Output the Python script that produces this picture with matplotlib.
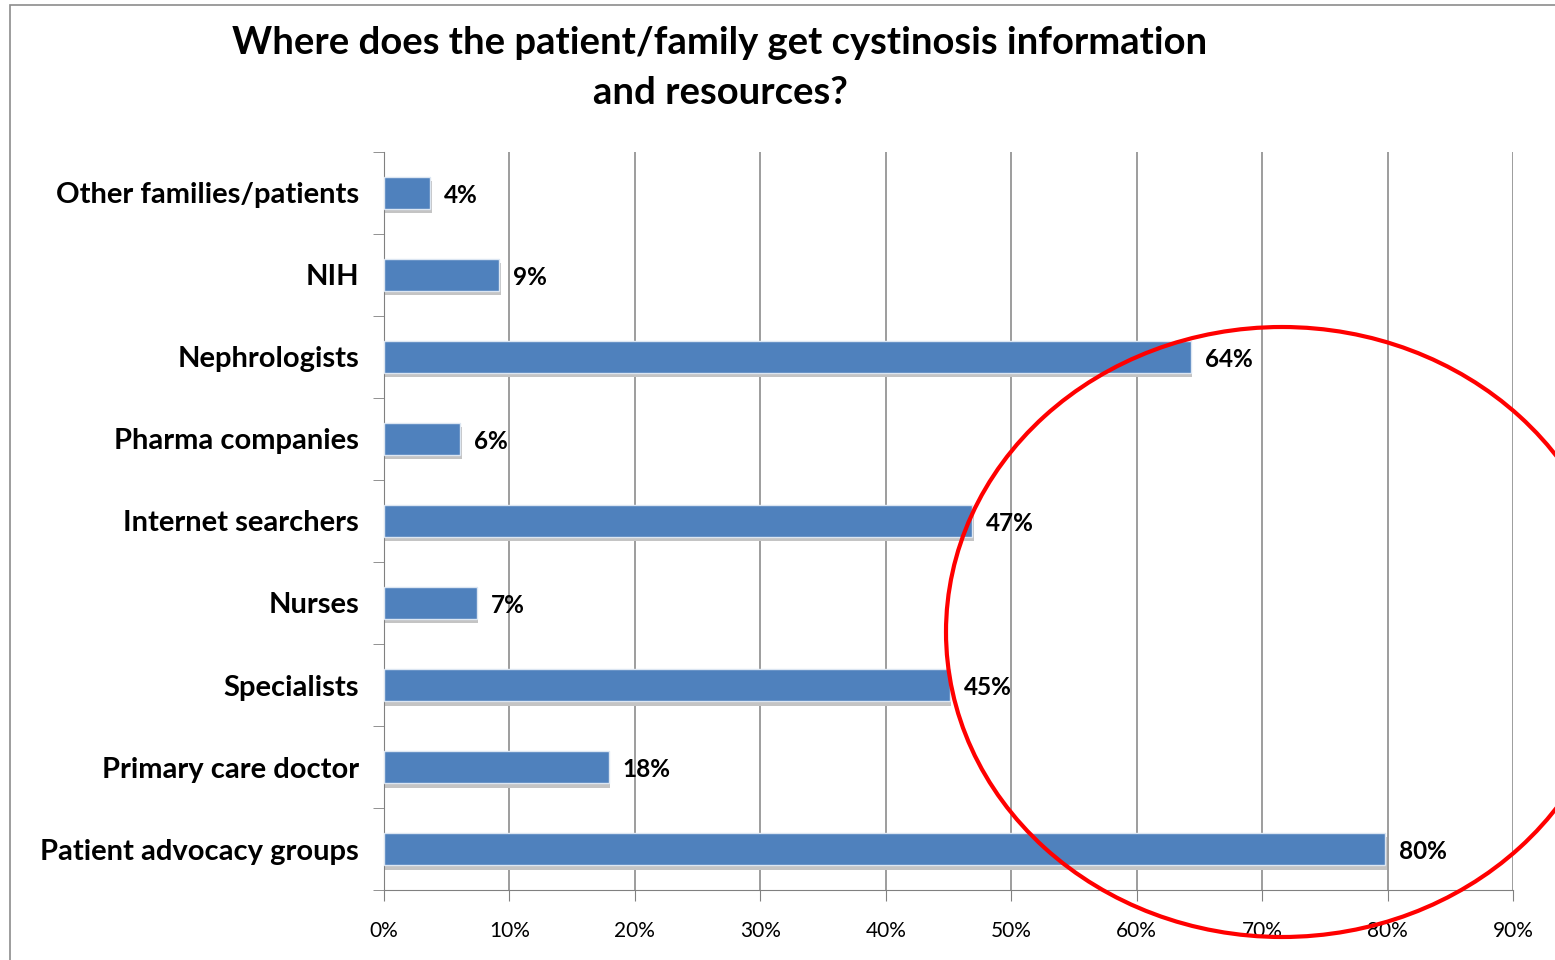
import numpy as np
import matplotlib
matplotlib.use('Agg')
import matplotlib.pyplot as plt
from matplotlib.patches import Ellipse, Rectangle
from matplotlib.ticker import FixedLocator

plt.rcParams['font.family'] = ['Lato', 'DejaVu Sans']

# data (bottom to top)
categories = ['Patient advocacy groups', 'Primary care doctor', 'Specialists', 'Nurses',
              'Internet searchers', 'Pharma companies', 'Nephrologists', 'NIH',
              'Other families/patients']
values = [79.8, 17.9, 45.1, 7.4, 46.9, 6.1, 64.3, 9.2, 3.7]
xticks = [0, 10, 20, 30, 40, 50, 60, 70, 80, 90]

fig = plt.figure(figsize=(15.55, 9.6), dpi=100)
ax = fig.add_axes([0.2469, 0.0729, 0.7262, 0.7688])

y = np.arange(len(categories))
# soft shadow under bars
ax.barh(y - 0.05, values, height=0.4, left=0.12, color='#c4c4c4', zorder=2)
ax.barh(y, values, height=0.4, color='#4f81bd', edgecolor='#dce6f2', linewidth=1, zorder=3)

for yi, v in zip(y, values):
    ax.text(v + 1.1, yi - 0.03, f'{v:.0f}%', va='center', ha='left', fontsize=17.5,
            fontweight='bold', color='black', zorder=4)

ax.set_xlim(0, 90)
ax.set_ylim(-0.5, len(categories) - 0.5)
ax.set_xticks(xticks)
ax.set_xticklabels([f'{t}%' for t in xticks], fontsize=15)
ax.set_yticks(y)
ax.set_yticklabels(categories, fontsize=21, fontweight='bold')
ax.yaxis.set_minor_locator(FixedLocator(np.arange(-0.5, len(categories), 1)))
ax.tick_params(axis='y', which='major', length=0, pad=18)
ax.tick_params(axis='y', which='minor', length=8, color='#808080')
ax.tick_params(axis='x', length=8, color='#808080', pad=14)

ax.grid(axis='x', color='#8c8c8c', linewidth=1.2, zorder=0)
ax.set_axisbelow(True)
for s in ['top', 'right']:
    ax.spines[s].set_visible(False)
ax.spines['left'].set_color('#808080')
ax.spines['bottom'].set_color('#808080')

fig.text(0.463, 0.955, 'Where does the patient/family get cystinosis information',
         ha='center', va='center', fontsize=27.5, fontweight='bold')
fig.text(0.463, 0.903, 'and resources?', ha='center', va='center', fontsize=27.5,
         fontweight='bold')

# outer frame
fig.add_artist(Rectangle((10 / 1555, -0.1), 1.2, 1.1 - 5 / 960, fill=False,
                         edgecolor='#8c8c8c', linewidth=1.2, transform=fig.transFigure))

# red ellipse annotation
fig.add_artist(Ellipse((1282 / 1555, 1 - 632 / 960), 672 / 1555, 610 / 960,
                       fill=False, edgecolor='#ff0000', linewidth=3,
                       transform=fig.transFigure, zorder=10))

fig.savefig('out.png', dpi=100)
